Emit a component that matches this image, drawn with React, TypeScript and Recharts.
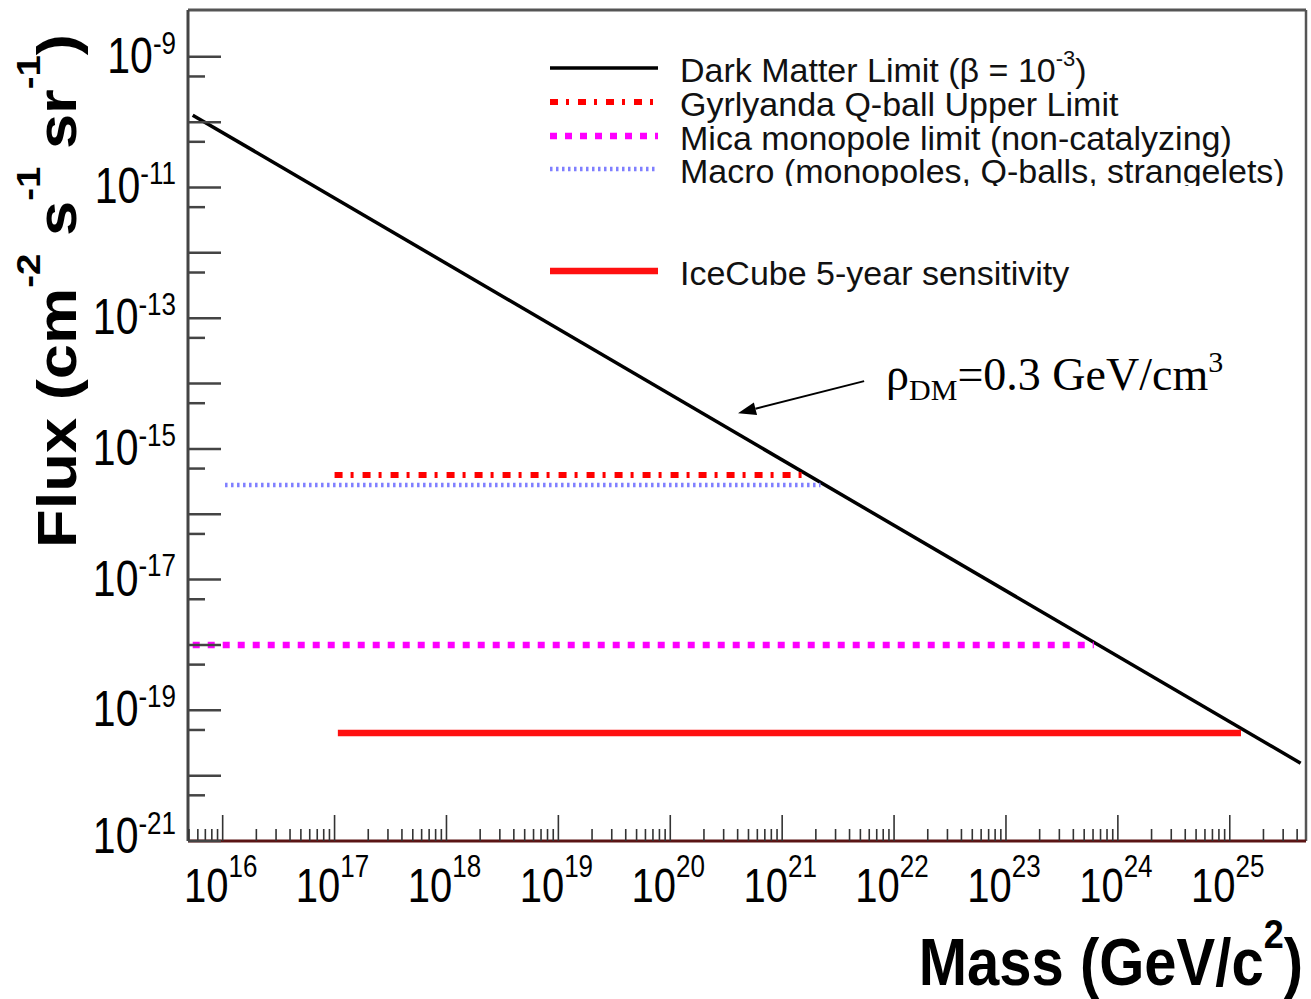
import React from 'react';
import { LineChart, Line, XAxis, YAxis, Legend, ReferenceLine } from 'recharts';

// ---- axis domains (GeV/c^2 and cm^-2 s^-1 sr^-1) ----
const X_MIN = 4.9e15;
const X_MAX = 4.8e25;
const Y_MIN = 1e-21;
const Y_MAX = 5.2e-9;

// ---- series data ----
const darkMatterMass = [5.4e15, 4.3e25];
const darkMatterFlux = [1.28e-10, 1.55e-20];

const gyrlyandaMass = [1.0e17, 1.7e21];
const gyrlyandaFlux = [4.0e-16, 4.0e-16];

const micaMass = [5.4e15, 6.1e23];
const micaFlux = [1.0e-18, 1.0e-18];

const macroMass = [1.05e16, 2.2e21];
const macroFlux = [2.8e-16, 2.8e-16];

const icecubeMass = [1.07e17, 1.26e25];
const icecubeFlux = [4.5e-20, 4.5e-20];

// ---- tick definitions ----
const xTickExponents = [15, 16, 17, 18, 19, 20, 21, 22, 23, 24, 25];
const xTickMultipliers = [1, 2, 3, 4, 5, 6, 7, 8, 9];
const xLabelExponents = [16, 17, 18, 19, 20, 21, 22, 23, 24, 25];
const yMajorExponents = [-21, -20, -19, -18, -17, -16, -15, -14, -13, -12, -11, -10, -9];
const yMinorExponents = [-21, -20, -19, -18, -17, -16, -15, -14, -13, -12, -11, -10];
const yLabelExponents = [-9, -11, -13, -15, -17, -19, -21];

// ---- annotation ----
const arrowFrom = { mass: 5.4e21, flux: 1.09e-14 };
const arrowTo = { mass: 4.03e20, flux: 3.52e-15 };

const xTicks: number[] = [];
xTickExponents.forEach((e) =>
  xTickMultipliers.forEach((m) => {
    const v = m * Math.pow(10, e);
    if (v >= X_MIN && v <= X_MAX) xTicks.push(v);
  })
);
const yTicks: number[] = [
  ...yMajorExponents.map((e) => Math.pow(10, e)),
  ...yMinorExponents.map((e) => 5 * Math.pow(10, e)),
].sort((a, b) => a - b);

const toData = (mass: number[], flux: number[]) => mass.map((m, i) => ({ mass: m, flux: flux[i] }));

const SERIES = [
  { key: 'dm', name: 'Dark Matter Limit', data: toData(darkMatterMass, darkMatterFlux), color: '#000000', width: 3.5, dash: undefined as string | undefined },
  { key: 'gyr', name: 'Gyrlyanda Q-ball Upper Limit', data: toData(gyrlyandaMass, gyrlyandaFlux), color: '#ff0000', width: 6, dash: '8 8 3 9' },
  { key: 'mica', name: 'Mica monopole limit (non-catalyzing)', data: toData(micaMass, micaFlux), color: '#ff00ff', width: 6.5, dash: '7 8' },
  { key: 'macro', name: 'Macro (monopoles, Q-balls, strangelets)', data: toData(macroMass, macroFlux), color: '#7f7fff', width: 4.5, dash: '2.5 3.5' },
  { key: 'ice', name: 'IceCube 5-year sensitivity', data: toData(icecubeMass, icecubeFlux), color: '#ff1010', width: 6.5, dash: undefined as string | undefined },
];

const SANS = '"Liberation Sans", Arial, Helvetica, sans-serif';
const SERIF = '"Liberation Serif", "Times New Roman", serif';

const XTick = (props: any) => {
  const { x, y, payload } = props;
  const lg = Math.log10(payload.value);
  const e = Math.round(lg);
  const major = Math.abs(lg - e) < 1e-6;
  return (
    <g>
      <line x1={x} x2={x} y1={y} y2={y - (major ? 26 : 12)} stroke="#333" strokeWidth={1.6} />
      {major && xLabelExponents.includes(e) && (
        <g transform={`translate(${x - 2},${y + 61}) scale(1,1.2)`}>
          <text x={0} y={0} textAnchor="middle" fontSize={40} fontFamily={SANS} fill="#000">
            10<tspan fontSize={26} dy={-21}>{e}</tspan>
          </text>
        </g>
      )}
    </g>
  );
};

const YTick = (props: any) => {
  const { x, y, payload } = props;
  const lg = Math.log10(payload.value);
  const e = Math.round(lg);
  const major = Math.abs(lg - e) < 1e-6;
  const base = e === -21 ? 12 : 16;
  return (
    <g>
      <line x1={x} x2={x + (major ? 33 : 17)} y1={y} y2={y} stroke="#444" strokeWidth={2.5} />
      {major && yLabelExponents.includes(e) && (
        <g transform={`translate(${x - 12},${y + base}) scale(1,1.2)`}>
          <text x={0} y={0} textAnchor="end" fontSize={41} fontFamily={SANS} fill="#000">
            10<tspan fontSize={26} dy={-16}>{e}</tspan>
          </text>
        </g>
      )}
    </g>
  );
};

const legendRowY = [68, 102, 136, 169, 271];

const LegendContent = () => (
  <svg width={1311} height={300} style={{ position: 'absolute', left: 0, top: 0, overflow: 'visible' }}>
    {SERIES.map((s, i) => (
      <g key={s.key}>
        <line
          x1={550}
          x2={658}
          y1={legendRowY[i]}
          y2={legendRowY[i]}
          stroke={s.color}
          strokeWidth={s.width}
          strokeDasharray={s.dash}
        />
        <text x={680} y={legendRowY[i] + 14} fontSize={34} fontFamily={SANS} fill="#111">
          {s.key === 'dm' ? (
            <>
              {s.name} (β = 10<tspan fontSize={22} dy={-16}>-3</tspan>
              <tspan dy={16}>)</tspan>
            </>
          ) : (
            s.name
          )}
        </text>
      </g>
    ))}
    <rect x={505} y={186} width={790} height={66} fill="#ffffff" />
  </svg>
);

const ArrowShape = (props: any) => {
  const { x1, y1, x2, y2 } = props;
  const dx = x2 - x1;
  const dy = y2 - y1;
  const len = Math.sqrt(dx * dx + dy * dy);
  const ux = dx / len;
  const uy = dy / len;
  const headL = 18;
  const headW = 6.5;
  const bx = x2 - ux * headL;
  const by = y2 - uy * headL;
  const px = -uy;
  const py = ux;
  return (
    <g>
      <line x1={x1} y1={y1} x2={bx} y2={by} stroke="#000" strokeWidth={2} />
      <polygon
        points={`${x2},${y2} ${bx + px * headW},${by + py * headW} ${bx - px * headW},${by - py * headW}`}
        fill="#000"
      />
      <text x={x1 + 22} y={y1 + 9} fontSize={46} fontFamily={SERIF} fill="#000">
        ρ<tspan fontSize={30} dy={10}>DM</tspan>
        <tspan dy={-10}>=0.3 GeV/cm</tspan>
        <tspan fontSize={30} dy={-18}>3</tspan>
      </text>
    </g>
  );
};

export default function App() {
  return (
    <div style={{ position: 'absolute', left: 0, top: 0, width: 1311, height: 999, background: '#ffffff' }}>
      <LineChart width={1311} height={999} margin={{ top: 10, right: 5, bottom: 157, left: 187 }}>
        <XAxis
          dataKey="mass"
          type="number"
          scale="log"
          domain={[X_MIN, X_MAX]}
          allowDataOverflow
          ticks={xTicks}
          interval={0}
          tick={<XTick />}
          tickLine={false}
          tickSize={0}
          tickMargin={0}
          height={1}
          axisLine={{ stroke: '#5a1414', strokeWidth: 3 }}
        />
        <YAxis
          dataKey="flux"
          type="number"
          scale="log"
          domain={[Y_MIN, Y_MAX]}
          allowDataOverflow
          ticks={yTicks}
          interval={0}
          tick={<YTick />}
          tickLine={false}
          tickSize={0}
          tickMargin={0}
          width={1}
          axisLine={{ stroke: '#444', strokeWidth: 3 }}
        />
        <ReferenceLine y={Y_MAX} stroke="#555" strokeWidth={3} ifOverflow="visible" />
        <ReferenceLine x={X_MAX} stroke="#555" strokeWidth={2.5} ifOverflow="visible" />
        {SERIES.map((s) => (
          <Line
            key={s.key}
            data={s.data}
            dataKey="flux"
            name={s.name}
            type="linear"
            stroke={s.color}
            strokeWidth={s.width}
            strokeDasharray={s.dash}
            dot={false}
            activeDot={false}
            isAnimationActive={false}
            strokeLinecap="butt"
          />
        ))}
        <ReferenceLine
          segment={[
            { x: arrowFrom.mass, y: arrowFrom.flux },
            { x: arrowTo.mass, y: arrowTo.flux },
          ]}
          ifOverflow="visible"
          shape={<ArrowShape />}
        />
        <Legend
          layout="horizontal"
          verticalAlign="middle"
          align="center"
          content={() => <LegendContent />}
          wrapperStyle={{ position: 'absolute', left: 0, top: 0, width: 1311, height: 300, margin: 0, padding: 0 }}
        />
      </LineChart>
      <svg width={1311} height={999} style={{ position: 'absolute', left: 0, top: 0, pointerEvents: 'none' }}>
        <g transform="translate(76,548) rotate(-90) scale(1.13,1)">
          <text x={0} y={0} fontSize={56} fontWeight="bold" fontFamily={SANS} fill="#000">
            Flux (cm<tspan fontSize={34} dy={-36}>-2</tspan>
            <tspan dy={36}> s</tspan>
            <tspan fontSize={34} dy={-36}>-1</tspan>
            <tspan dy={36}> sr</tspan>
            <tspan fontSize={34} dy={-36}>-1</tspan>
            <tspan dy={36}>)</tspan>
          </text>
        </g>
        <g transform="translate(1303,985) scale(1,1.15)">
          <text x={0} y={0} textAnchor="end" fontSize={58} fontWeight="bold" fontFamily={SANS} fill="#000">
            Mass (GeV/c<tspan fontSize={36} dy={-32}>2</tspan>
            <tspan dy={32}>)</tspan>
          </text>
        </g>
      </svg>
    </div>
  );
}
